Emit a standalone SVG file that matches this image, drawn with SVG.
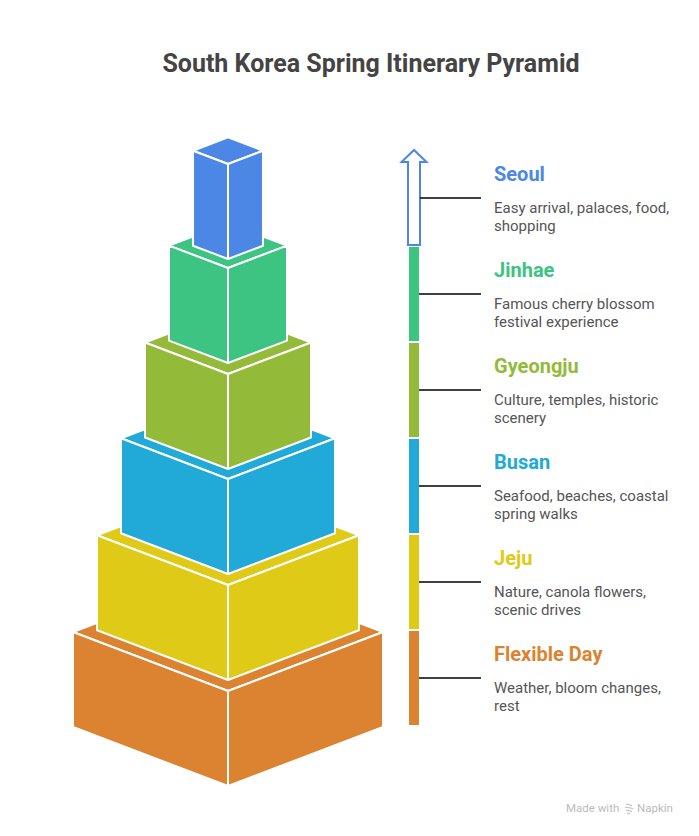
<svg xmlns="http://www.w3.org/2000/svg" width="699" height="836" viewBox="0 0 699 836">
<style>
.face{stroke:#fff;stroke-width:2;stroke-linejoin:round}
.title{font-family:Roboto,"Liberation Sans",sans-serif;font-weight:bold;font-size:25px;fill:#444}
.h{font-family:Roboto,"Liberation Sans",sans-serif;font-weight:bold;font-size:20px}
.d{font-family:Roboto,"Liberation Sans",sans-serif;font-size:15px;fill:#555}
.conn{stroke:#000;stroke-width:1.6}
</style>
<rect width="699" height="836" fill="#fff"/>
<text class="title" x="371" y="72" text-anchor="middle">South Korea Spring Itinerary Pyramid</text>

<g id="block-flexible" fill="#DC8332">
<polygon class="face" points="73,632 228,573 383,632 228,691"/>
<polygon class="face" points="73,632 228,691 228,786 73,727"/>
<polygon class="face" points="383,632 228,691 228,786 383,727"/>
</g>
<g id="block-jeju" fill="#DECA17">
<polygon class="face" points="97,535.2 228,485.4 359,535.2 228,585"/>
<polygon class="face" points="97,535.2 228,585 228,680 97,630.2"/>
<polygon class="face" points="359,535.2 228,585 228,680 359,630.2"/>
</g>
<g id="block-busan" fill="#21A9D8">
<polygon class="face" points="121,438.3 228,397.7 335,438.3 228,479"/>
<polygon class="face" points="121,438.3 228,479 228,574 121,533.3"/>
<polygon class="face" points="335,438.3 228,479 228,574 335,533.3"/>
</g>
<g id="block-gyeongju" fill="#94BA3A">
<polygon class="face" points="145,342.5 228,310.9 311,342.5 228,374"/>
<polygon class="face" points="145,342.5 228,374 228,469 145,437.5"/>
<polygon class="face" points="311,342.5 228,374 228,469 311,437.5"/>
</g>
<g id="block-jinhae" fill="#3DC482">
<polygon class="face" points="169,245.6 228,223.2 287,245.6 228,268"/>
<polygon class="face" points="169,245.6 228,268 228,363 169,340.6"/>
<polygon class="face" points="287,245.6 228,268 228,363 287,340.6"/>
</g>
<g id="block-seoul" fill="#4D87E6">
<polygon class="face" points="193,150.7 228,137.4 263,150.7 228,164"/>
<polygon class="face" points="193,150.7 228,164 228,259 193,245.7"/>
<polygon class="face" points="263,150.7 228,164 228,259 263,245.7"/>
</g>

<g id="scale">
<path d="M414,150 L401.5,162 L408,162 L408,245 L420,245 L420,162 L426.5,162 Z" fill="#fff" stroke="#4D87E6" stroke-width="2" stroke-linejoin="miter"/>
<rect x="409" y="247" width="10" height="94" fill="#3DC482"/>
<rect x="409" y="343" width="10" height="94" fill="#94BA3A"/>
<rect x="409" y="439" width="10" height="94" fill="#21A9D8"/>
<rect x="409" y="535" width="10" height="94" fill="#DECA17"/>
<rect x="409" y="631" width="10" height="94" fill="#DC8332"/>
</g>

<g id="connectors">
<line class="conn" x1="420" y1="198" x2="481" y2="198"/>
<line class="conn" x1="419" y1="294" x2="481" y2="294"/>
<line class="conn" x1="419" y1="390" x2="481" y2="390"/>
<line class="conn" x1="419" y1="486" x2="481" y2="486"/>
<line class="conn" x1="419" y1="582" x2="481" y2="582"/>
<line class="conn" x1="419" y1="678" x2="481" y2="678"/>
</g>

<g id="label-seoul">
<text class="h" x="494" y="181" fill="#4D87E6">Seoul</text>
<text class="d" x="494" y="213">Easy arrival, palaces, food,</text>
<text class="d" x="494" y="231">shopping</text>
</g>
<g id="label-jinhae">
<text class="h" x="494" y="277" fill="#3DC482">Jinhae</text>
<text class="d" x="494" y="309">Famous cherry blossom</text>
<text class="d" x="494" y="327">festival experience</text>
</g>
<g id="label-gyeongju">
<text class="h" x="494" y="373" fill="#94BA3A">Gyeongju</text>
<text class="d" x="494" y="405">Culture, temples, historic</text>
<text class="d" x="494" y="423">scenery</text>
</g>
<g id="label-busan">
<text class="h" x="494" y="469" fill="#21A9D8">Busan</text>
<text class="d" x="494" y="501">Seafood, beaches, coastal</text>
<text class="d" x="494" y="519">spring walks</text>
</g>
<g id="label-jeju">
<text class="h" x="494" y="565" fill="#DECA17">Jeju</text>
<text class="d" x="494" y="597">Nature, canola flowers,</text>
<text class="d" x="494" y="615">scenic drives</text>
</g>
<g id="label-flexible">
<text class="h" x="494" y="661" fill="#DC8332">Flexible Day</text>
<text class="d" x="494" y="693">Weather, bloom changes,</text>
<text class="d" x="494" y="711">rest</text>
</g>

<g id="footer" font-family="Roboto,'Liberation Sans',sans-serif" font-size="11.5" fill="#bbb">
<text x="566" y="812">Made with</text>
<g stroke="#bbb" stroke-width="1.2" fill="none">
<path d="M626,804 L632,805.5 M625,807 L633,808.5 M626,810 L632,811.5 M627,813 L630,814"/>
</g>
<text x="637" y="812">Napkin</text>
</g>
</svg>
